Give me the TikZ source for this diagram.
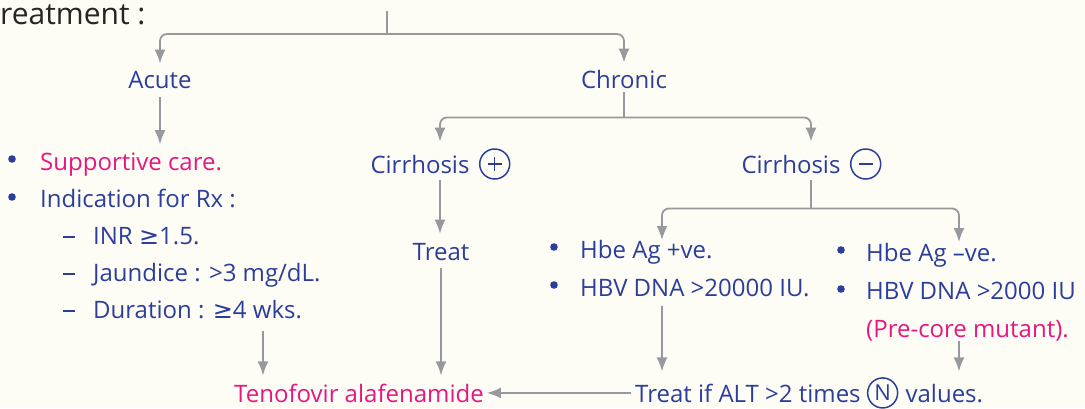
\documentclass[tikz,border=0pt]{standalone}
\usepackage{fontspec}
\setmainfont{Open Sans}
\newfontfamily\symfont{DejaVu Sans}
\usetikzlibrary{arrows.meta,positioning,calc}
\definecolor{paper}{HTML}{FDFDF6}
\definecolor{ink}{HTML}{2C3E9C}
\definecolor{hot}{HTML}{E6187F}
\definecolor{wire}{HTML}{98999C}
\definecolor{heading}{HTML}{252525}
\newcommand{\atleast}{{\symfont ≥}}
\tikzset{lbl/.style={text=ink,inner sep=0pt,font=\fontsize{24}{28}\selectfont},note/.style={lbl,anchor=base west},redlbl/.style={lbl,text=hot},sign/.style={circle,draw=ink,line width=1.5pt,inner sep=0pt,minimum size=30pt,text=ink,font=\fontsize{22}{26}\selectfont},link/.style={draw=wire,line width=1.8pt,rounded corners=7pt},flow/.style={link,-{Latex[length=14pt,width=11pt]}},every picture/.style={>=Latex}}
\newcommand{\dotmark}[2]{\fill[ink] (#1,#2) circle (3.8pt);}
\newcommand{\dashmark}[2]{\draw[ink,line width=1.4pt] (#1-6,#2)--(#1+6,#2);}

\begin{document}
\begin{tikzpicture}[x=1pt,y=-1pt]
  \fill[paper] (0,0) rectangle (1085,408);
  \useasboundingbox (0,0) rectangle (1085,408);
  \node[anchor=base west,inner sep=0pt,text=heading,font=\fontsize{30}{34}\selectfont] (head) at (0,24) {reatment :};
  % first split
  \coordinate (root) at (387,11);
  \coordinate (split) at (387,34);
  \node[lbl,anchor=base] (acute) at (160,88) {Acute};
  \node[lbl,anchor=base] (chronic) at (624,88) {Chronic};
  \draw[link] (root) -- (split);
  \draw[flow,shorten >=7pt] (split) -| (acute);
  \draw[flow,shorten >=7pt] (split) -| (chronic);
  % acute
  \begin{scope}
    \dotmark{12}{159}
    \node[note,text=hot] (care) at (40,170) {Supportive care.};
    \dotmark{12}{197}
    \node[note] (indic) at (40,207) {Indication for Rx :};
    \foreach \y/\name/\txt in {244/inr/{INR \atleast1.5.},281/jaun/{Jaundice : >3 mg/dL.},318/dur/{Duration : \atleast4 wks.}} {
      \dashmark{69}{\y-7}
      \node[note] (\name) at (93,\y) {\txt};
    }
    \draw[flow,shorten <=9pt,shorten >=8pt] (acute) -- (acute |- care.north);
  \end{scope}
  % chronic: cirrhosis +
  \begin{scope}
    \node[lbl,anchor=base] (cirpos) at (440,173) {Cirrhosis\hspace*{40pt}};
    \node[sign] (plus) at ([xshift=-15pt]cirpos.east) {};
    \draw[ink,line width=1.5pt] ([xshift=-7pt]plus.center) -- ([xshift=7pt]plus.center);
    \draw[ink,line width=1.5pt] ([yshift=-7pt]plus.center) -- ([yshift=7pt]plus.center);
    \node[lbl,anchor=base] (treat) at (441,260) {Treat};
    \coordinate (chsplit) at ([yshift=-29pt]chronic.south);
    \draw[link,shorten <=4pt] (chronic) -- (chsplit);
    \draw[flow,shorten >=13pt] (chsplit) -| (cirpos);
    \draw[flow,shorten <=7pt,shorten >=9pt] (cirpos.south) -- (cirpos.south |- treat.north);
  \end{scope}
  % chronic: cirrhosis -
  \begin{scope}
    \node[lbl,anchor=base] (cirneg) at (811,173) {Cirrhosis\hspace*{40pt}};
    \node[sign] (minus) at ([xshift=-15pt]cirneg.east) {};
    \draw[ink,line width=1.5pt] ([xshift=-7pt]minus.center) -- ([xshift=7pt]minus.center);
    \draw[flow,shorten >=13pt] (chsplit) -| (cirneg);
    \coordinate (ngsplit) at ([yshift=-35pt]cirneg.south);
    \coordinate (poscol) at (662,240);
    \coordinate (negcol) at (959,242);
    \draw[link,shorten <=7pt] (cirneg) -- (ngsplit);
    \draw[flow] (ngsplit) -| (poscol);
    \draw[flow] (ngsplit) -| (negcol);
    \dotmark{554}{247}
    \node[note] (hbepos) at (580,258) {Hbe Ag +ve.};
    \dotmark{554}{285}
    \node[note] (hbvpos) at (580,296) {HBV DNA >20000 IU.};
    \dotmark{841}{250}
    \node[note] (hbeneg) at (866,261) {Hbe Ag –ve.};
    \dotmark{841}{289}
    \node[note] (hbvneg) at (866,299) {HBV DNA >2000 IU};
    \node[note,text=hot] (precore) at (866,337) {(Pre-core mutant).};
  \end{scope}
  % drugs
  \node[redlbl,anchor=base west] (teno) at (234,402) {Tenofovir alafenamide};
  \node[note] (alt) at (635,402) {Treat if ALT >2 times};
  \node[sign,right=6pt of alt] (nsign) {N};
  \node[note] (vals) at ([xshift=7pt]nsign.east |- alt.base) {values.};
  \coordinate (tenoin) at ([xshift=29pt]teno.north west);
  \draw[flow,shorten <=12pt,shorten >=8pt] (dur.south -| tenoin) -- (tenoin);
  \draw[flow,shorten <=8pt,shorten >=8pt] (treat.south) -- (treat.south |- teno.north);
  \draw[flow,shorten <=9pt,shorten >=12pt] (hbvpos.south -| poscol) -- (alt.north -| poscol);
  \draw[flow,shorten >=12pt] (precore.south -| negcol) -- (alt.north -| negcol);
  \draw[flow,shorten <=4pt,shorten >=3pt] (alt.west) -- (alt.west -| teno.east);
\end{tikzpicture}
\end{document}
